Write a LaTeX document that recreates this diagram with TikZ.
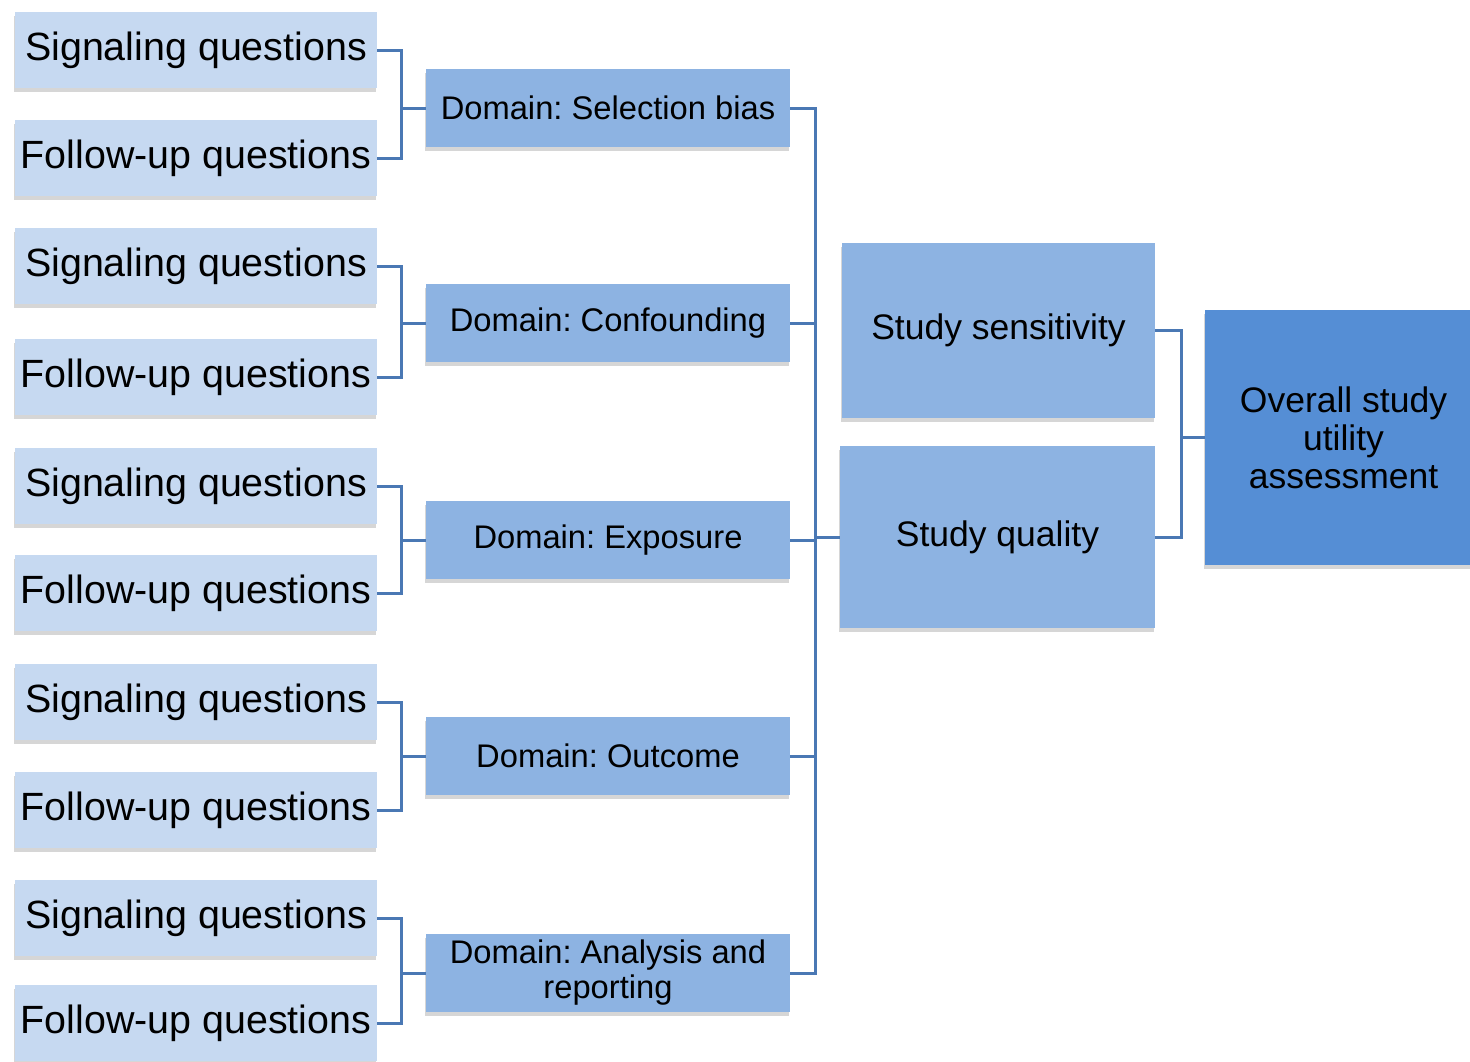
\documentclass[tikz,border=0pt]{standalone}
\usepackage{fontspec}
\setmainfont{Liberation Sans}
\usetikzlibrary{shadows}
\definecolor{qfill}{HTML}{C6D9F1}
\definecolor{dfill}{HTML}{8DB3E2}
\definecolor{ofill}{HTML}{558ED5}
\definecolor{linkc}{HTML}{4A78B4}
\frenchspacing
\begin{document}
\begin{tikzpicture}[x=1pt,y=-1pt,
  box/.style={inner sep=0pt, align=center, text=black,
    drop shadow={shadow xshift=-1pt, shadow yshift=-4pt, fill=black, opacity=0.16}},
  qbox/.style={box, fill=qfill, minimum width=362pt, minimum height=76pt,
    font=\fontsize{39.4}{44}\selectfont},
  dbox/.style={box, fill=dfill, minimum width=364pt, minimum height=78pt,
    font=\fontsize{32.7}{35}\selectfont},
  sbox/.style={box, fill=dfill, font=\fontsize{35.5}{38}\selectfont},
  obox/.style={box, fill=ofill, font=\fontsize{35.5}{38}\selectfont},
  conn/.style={draw=linkc, line width=3pt}]
\clip (0,0) rectangle (1470,1061);
% left question boxes
\node[qbox] (s1) at (196,50) {Signaling questions};
\node[qbox] (f1) at (196,158) {Follow-up questions};
\node[qbox] (s2) at (196,266) {Signaling questions};
\node[qbox] (f2) at (196,377) {Follow-up questions};
\node[qbox] (s3) at (196,486) {Signaling questions};
\node[qbox] (f3) at (196,593) {Follow-up questions};
\node[qbox] (s4) at (196,702) {Signaling questions};
\node[qbox] (f4) at (196,810) {Follow-up questions};
\node[qbox] (s5) at (196,918) {Signaling questions};
\node[qbox] (f5) at (196,1023) {Follow-up questions};
% domain boxes
\node[dbox] (d1) at (608,108) {Domain: Selection bias};
\node[dbox] (d2) at (608,323) {Domain: Confounding};
\node[dbox] (d3) at (608,540) {Domain: Exposure};
\node[dbox] (d4) at (608,756) {Domain: Outcome};
\node[dbox] (d5) at (608,973) {Domain: Analysis and\\reporting};
% study boxes
\node[sbox, minimum width=313pt, minimum height=175pt] (ss) at (998.5,330.5) {Study sensitivity};
\node[sbox, minimum width=315pt, minimum height=182pt] (sq) at (997.5,537) {Study quality};
\node[obox, minimum width=277pt, minimum height=255pt] (ov) at (1343.5,437.5) {Overall study\\utility\\assessment};
% junctions
\coordinate (j1) at (401,108);
\coordinate (j2) at (401,323);
\coordinate (j3) at (401,540);
\coordinate (j4) at (401,756);
\coordinate (j5) at (401,973);
\coordinate (sptop) at (815,108);
\coordinate (spbot) at (815,973);
\coordinate (rj) at (1181,437.5);
% connectors question -> domain
\draw[conn] (s1.east) -| (j1) -- (d1.west);
\draw[conn] (f1.east) -| (j1);
\draw[conn] (s2.east) -| (j2) -- (d2.west);
\draw[conn] (f2.east) -| (j2);
\draw[conn] (s3.east) -| (j3) -- (d3.west);
\draw[conn] (f3.east) -| (j3);
\draw[conn] (s4.east) -| (j4) -- (d4.west);
\draw[conn] (f4.east) -| (j4);
\draw[conn] (s5.east) -| (j5) -- (d5.west);
\draw[conn] (f5.east) -| (j5);
% domain spine
\draw[conn] (d1.east) -- (sptop) -- (spbot) -- (d5.east);
\draw[conn] (d2.east) -- (d2.east -| sptop);
\draw[conn] (d3.east) -- (d3.east -| sptop);
\draw[conn] (d4.east) -- (d4.east -| sptop);
\draw[conn] (sq.west) -- (sq.west -| sptop);
% right connectors
\draw[conn] (ss.east) -| (rj) -- (ov.west);
\draw[conn] (sq.east) -| (rj);
\end{tikzpicture}
\end{document}
